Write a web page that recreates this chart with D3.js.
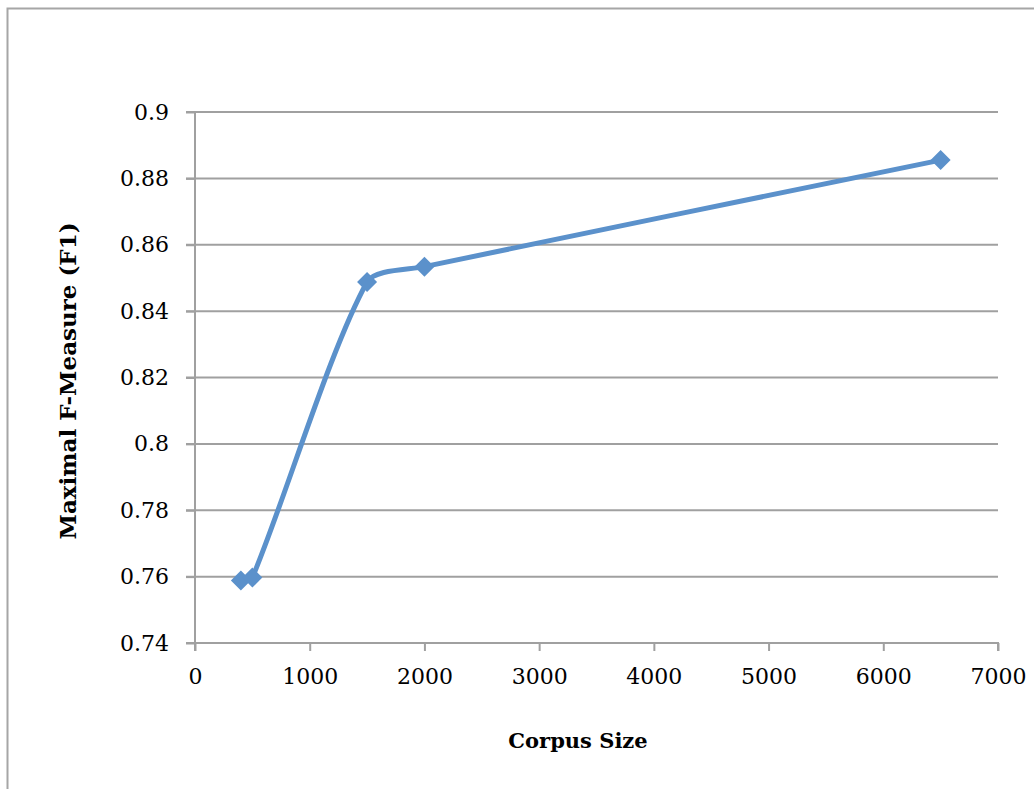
<!DOCTYPE html>
<html>
<head>
<meta charset="utf-8">
<script src="https://cdn.jsdelivr.net/npm/d3@7"></script>
<style>
  body { margin: 0; background: #fff; }
  text { font-family: "DejaVu Serif", serif; fill: #000; }
</style>
</head>
<body>
<script>
var width = 1034;
var height = 789;

// data
var corpusSize = [400, 500, 1500, 2000, 6500];
var f1 = [0.7588, 0.7597, 0.8488, 0.8534, 0.8855];
var xTicks = [0, 1000, 2000, 3000, 4000, 5000, 6000, 7000];
var yTicks = [0.74, 0.76, 0.78, 0.8, 0.82, 0.84, 0.86, 0.88, 0.9];

var points = corpusSize.map(function(d, i) { return [d, f1[i]]; });

var x = d3.scaleLinear().domain([0, 7000]).range([195, 998]);
var y = d3.scaleLinear().domain([0.74, 0.9]).range([643, 112]);

var svg = d3.select("body")
            .append("svg")
            .attr("width", width)
            .attr("height", height);

// outer chart frame
svg.append("rect")
   .attr("x", 7.5).attr("y", 8.5)
   .attr("width", 1100).attr("height", 1000)
   .attr("fill", "none")
   .attr("stroke", "#a6a6a6")
   .attr("stroke-width", 2);

// horizontal gridlines
svg.append("g")
   .selectAll("line")
   .data(yTicks)
   .enter()
   .append("line")
   .attr("x1", 186).attr("x2", 998)
   .attr("y1", function(d) { return y(d); })
   .attr("y2", function(d) { return y(d); })
   .attr("stroke", "#a0a0a0")
   .attr("stroke-width", 2);

// y axis
var yAxis = d3.axisLeft(y).tickValues(yTicks).tickSize(9).tickPadding(17)
              .tickFormat(function(d) { return d3.format("")(+d.toFixed(2)); });
var gy = svg.append("g").attr("transform", "translate(195,0)").call(yAxis);

// x axis
var xAxis = d3.axisBottom(x).tickValues(xTicks).tickSize(8).tickPadding(17)
              .tickFormat(d3.format("d"));
var gx = svg.append("g").attr("transform", "translate(0,643)").call(xAxis);

[gy, gx].forEach(function(g) {
    g.select(".domain").attr("stroke", "#a0a0a0").attr("stroke-width", 2);
    g.selectAll(".tick line").attr("stroke", "#a0a0a0").attr("stroke-width", 2);
    g.selectAll(".tick text")
     .style("font-family", "'DejaVu Serif', serif")
     .style("font-size", "22px")
     .attr("fill", "#000");
});
gx.select(".domain").attr("d", "M195,8V0H998V8");
gy.select(".domain").attr("d", "M-9,112H0V643H-9");

// spreadsheet-style smoothing: tangent handles scaled by neighbouring segment lengths
function smoothPath(pts) {
    var k = 0.26;
    var p = pts.map(function(d) { return [x(d[0]), y(d[1])]; });
    var n = p.length;
    var path = d3.path();
    var outC = [], inC = [];
    for (var i = 0; i < n; i++) {
        var prev = p[Math.max(i - 1, 0)], next = p[Math.min(i + 1, n - 1)];
        var d1 = i > 0 ? Math.hypot(p[i][0] - prev[0], p[i][1] - prev[1]) : 0;
        var d2 = i < n - 1 ? Math.hypot(next[0] - p[i][0], next[1] - p[i][1]) : 0;
        var mx = next[0] - prev[0], my = next[1] - prev[1];
        var s = d1 + d2 || 1;
        inC[i] = [p[i][0] - mx * d1 / s * k, p[i][1] - my * d1 / s * k];
        outC[i] = [p[i][0] + mx * d2 / s * k, p[i][1] + my * d2 / s * k];
    }
    path.moveTo(p[0][0], p[0][1]);
    for (var j = 1; j < n; j++) {
        path.bezierCurveTo(outC[j - 1][0], outC[j - 1][1], inC[j][0], inC[j][1], p[j][0], p[j][1]);
    }
    return path.toString();
}

svg.append("path")
   .datum(points)
   .attr("d", smoothPath)
   .attr("fill", "none")
   .attr("stroke", "#5b91cb")
   .attr("stroke-width", 5)
   .attr("stroke-linejoin", "round");

// diamond markers
svg.selectAll("path.marker")
   .data(points)
   .enter()
   .append("path")
   .attr("class", "marker")
   .attr("d", "M0,-10L10,0L0,10L-10,0Z")
   .attr("transform", function(d) { return "translate(" + x(d[0]) + "," + y(d[1]) + ")"; })
   .attr("fill", "#5b91cb");

// axis titles
svg.append("text")
   .attr("x", 578).attr("y", 748)
   .attr("text-anchor", "middle")
   .style("font-size", "21px")
   .style("font-weight", "bold")
   .text("Corpus Size");

svg.append("text")
   .attr("transform", "translate(76,381) rotate(-90)")
   .attr("text-anchor", "middle")
   .style("font-size", "23px")
   .style("font-weight", "bold")
   .text("Maximal F-Measure (F1)");
</script>
</body>
</html>
